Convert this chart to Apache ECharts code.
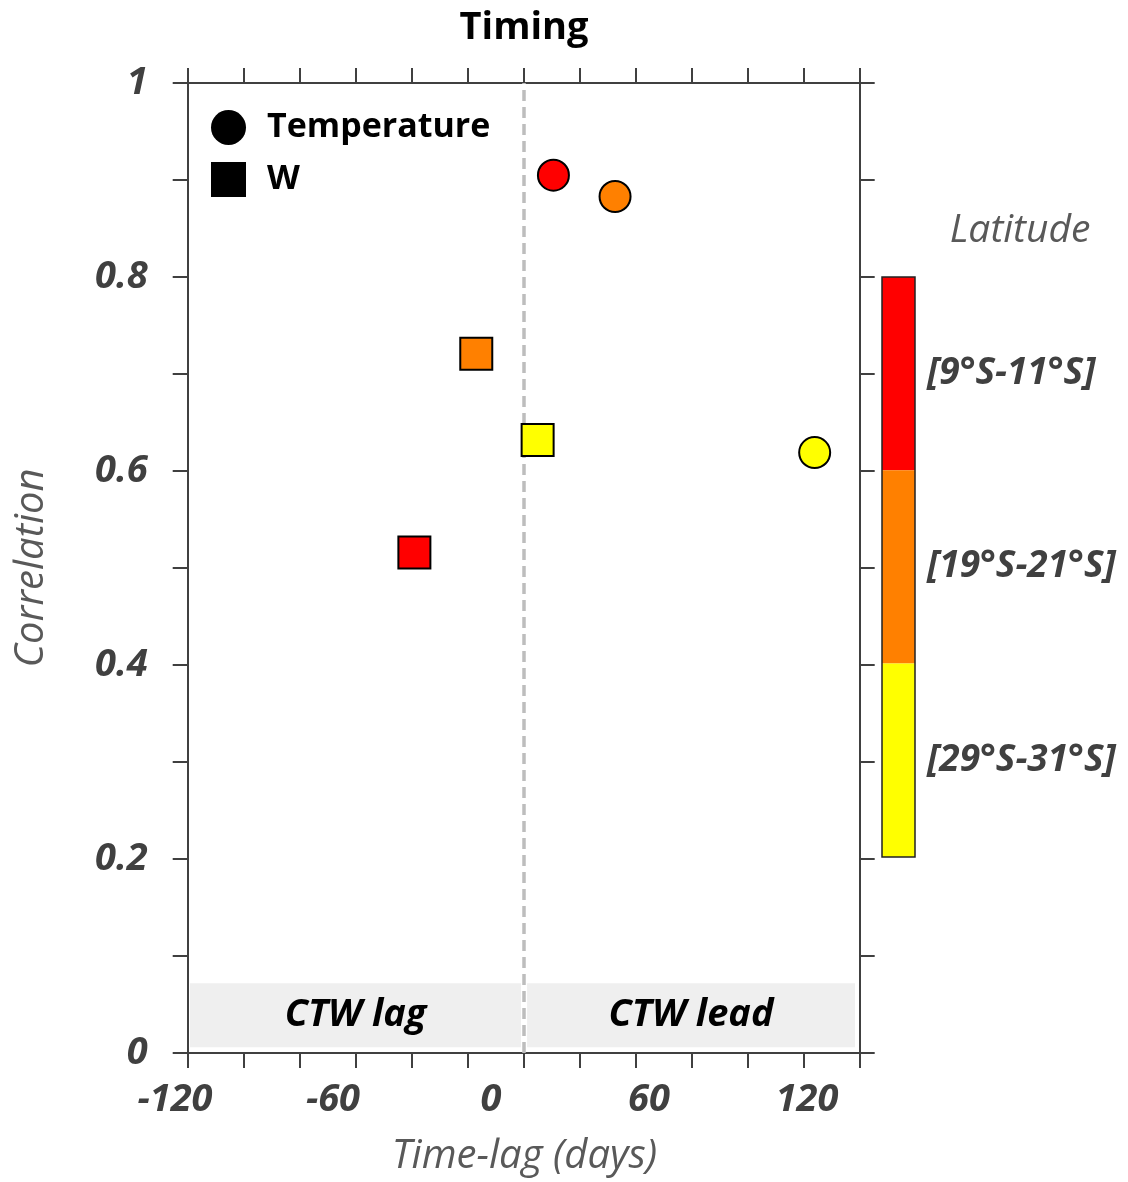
<!DOCTYPE html>
<html>
<head>
<meta charset="utf-8">
<title>Timing</title>
<script src="https://cdn.jsdelivr.net/npm/echarts@6/dist/echarts.min.js"></script>
<style>
  html, body { margin: 0; padding: 0; background: #fff; }
  #chart { width: 1128px; height: 1182px; }
</style>
</head>
<body>
<div id="chart"></div>
<script>
// latitude bands (deg S, band centre) and their colours
const latitudeBands = [10, 20, 30];
const latitudeLabels = ["[9°S-11°S]", "[19°S-21°S]", "[29°S-31°S]"];
const latitudeColors = ["#ff0000", "#ff8000", "#ffff00"];

// Temperature (circles) and W (squares): time-lag in days, correlation
const tempLag = [23.7, 47.1, 122.9];
const tempCorr = [0.905, 0.883, 0.619];
const wLag = [-29.1, -5.6, 17.7];
const wCorr = [0.516, 0.721, 0.632];

const xTickLabels = [-120, -60, 0, 60, 120];
const yTickLabels = [0, 0.2, 0.4, 0.6, 0.8, 1];
const xMin = -120;
const xMax = 140;
const lagLeadSplit = 12.4;

// shaded CTW lag / lead boxes along the bottom
const bandNames = ["CTW lag", "CTW lead"];
const bandFrom = [-114.3, 13.7];
const bandTo = [11.4, 138.2];
const bandLow = 0.006;
const bandHigh = 0.072;

// minor ticks of the frame: 12 even steps ending at the right edge
const xTicks = [];
for (let i = 0; i <= 12; i++) {
    xTicks.push(xMax - (12 - i) * (xMax + 115.2) / 12);
}

const FONT = "Open Sans";
const GREY = "#404040";

const toPoints = (lags, corrs) => lags.map((v, i) => [v, corrs[i], latitudeBands[i]]);

const tickLabelStyle = {
    fontFamily: FONT,
    fontWeight: "bold",
    fontStyle: "italic",
    fontSize: 38,
    color: GREY
};
const frameLine = { show: true, onZero: false, lineStyle: { color: GREY, width: 2 } };
const frameTick = { show: true, length: 15, lineStyle: { color: GREY, width: 2 } };

const chart = echarts.init(document.getElementById("chart"));

chart.setOption({
    backgroundColor: "#fff",
    animation: false,
    graphic: [
        {
            type: "text",
            x: 524,
            y: 28,
            style: {
                text: "Timing",
                align: "center",
                verticalAlign: "middle",
                fontFamily: FONT,
                fontWeight: "bold",
                fontSize: 38,
                fill: "#000"
            }
        },
        {
            type: "text",
            x: 1020,
            y: 231,
            style: {
                text: "Latitude",
                align: "center",
                verticalAlign: "middle",
                fontFamily: FONT,
                fontStyle: "italic",
                fontSize: 39,
                fill: "#595959"
            }
        },
        {
            type: "rect",
            z: 100,
            shape: { x: 882, y: 277, width: 33, height: 580 },
            style: { fill: null, stroke: "#222", lineWidth: 1.5 }
        }
    ],
    legend: {
        left: 206,
        top: 105,
        orient: "vertical",
        itemWidth: 35,
        itemHeight: 35,
        itemGap: 17,
        selectedMode: false,
        textStyle: {
            fontFamily: FONT,
            fontWeight: "bold",
            fontSize: 34,
            color: "#000",
            padding: [0, 0, 0, 16]
        },
        data: [
            { name: "Temperature", icon: "circle", itemStyle: { color: "#000", borderWidth: 0 } },
            { name: "W", icon: "rect", itemStyle: { color: "#000", borderWidth: 0 } }
        ]
    },
    visualMap: {
        type: "piecewise",
        dimension: 2,
        seriesIndex: [0, 1],
        orient: "vertical",
        inverse: true,
        align: "left",
        left: 882,
        top: 277,
        padding: 0,
        itemWidth: 33,
        itemHeight: 193.3,
        itemGap: 0,
        itemSymbol: "rect",
        textGap: 12,
        selectedMode: false,
        hoverLink: false,
        textStyle: Object.assign({}, tickLabelStyle, { fontSize: 37 }),
        pieces: latitudeBands.map((b, i) => ({
            min: b - 1,
            max: b + 1,
            label: latitudeLabels[i],
            color: latitudeColors[i]
        }))
    },
    grid: {
        left: 175,
        right: 268.3,
        top: 83,
        bottom: 129
    },
    xAxis: [
        {
            type: "value",
            position: "bottom",
            min: xMin,
            max: xMax,
            axisLine: frameLine,
            axisTick: Object.assign({ customValues: xTicks }, frameTick),
            axisLabel: Object.assign({ customValues: xTickLabels, margin: 28 }, tickLabelStyle),
            splitLine: { show: false },
            name: "Time-lag (days)",
            nameLocation: "middle",
            nameGap: 84,
            nameTextStyle: {
                fontFamily: FONT,
                fontStyle: "italic",
                fontSize: 40,
                color: "#595959",
                padding: [0, 0, 0, 14]
            }
        },
        {
            type: "value",
            position: "top",
            min: xMin,
            max: xMax,
            axisLine: frameLine,
            axisTick: Object.assign({ customValues: xTicks }, frameTick),
            axisLabel: { show: false },
            splitLine: { show: false }
        }
    ],
    yAxis: [
        {
            type: "value",
            position: "left",
            offset: -12.7,
            min: 0,
            max: 1,
            interval: 0.1,
            axisLine: frameLine,
            axisTick: frameTick,
            axisLabel: Object.assign({ customValues: yTickLabels, margin: 40 }, tickLabelStyle),
            splitLine: { show: false },
            name: "Correlation",
            nameLocation: "middle",
            nameGap: 136,
            nameRotate: 90,
            nameTextStyle: {
                fontFamily: FONT,
                fontStyle: "italic",
                fontSize: 40,
                color: "#595959"
            }
        },
        {
            type: "value",
            position: "right",
            min: 0,
            max: 1,
            interval: 0.1,
            axisLine: frameLine,
            axisTick: frameTick,
            axisLabel: { show: false },
            splitLine: { show: false }
        }
    ],
    series: [
        {
            name: "Temperature",
            type: "scatter",
            symbol: "circle",
            symbolSize: 31,
            z: 5,
            itemStyle: { color: "#000", borderColor: "#000", borderWidth: 2, opacity: 1 },
            data: toPoints(tempLag, tempCorr)
        },
        {
            name: "W",
            type: "scatter",
            symbol: "rect",
            symbolSize: 32,
            z: 5,
            itemStyle: { color: "#000", borderColor: "#000", borderWidth: 2, opacity: 1 },
            data: toPoints(wLag, wCorr)
        },
        {
            name: "frame",
            type: "scatter",
            z: 1,
            silent: true,
            data: [],
            markArea: {
                silent: true,
                itemStyle: { color: "#efefef" },
                label: {
                    show: true,
                    position: "inside",
                    fontFamily: FONT,
                    fontWeight: "bold",
                    fontStyle: "italic",
                    fontSize: 38,
                    color: "#000"
                },
                data: bandNames.map((n, i) => [
                    { name: n, xAxis: bandFrom[i], yAxis: bandLow },
                    { xAxis: bandTo[i], yAxis: bandHigh }
                ])
            },
            markLine: {
                silent: true,
                symbol: "none",
                label: { show: false },
                lineStyle: { color: "#bdbdbd", type: [11, 6], width: 3.5 },
                data: [{ xAxis: lagLeadSplit }]
            }
        }
    ]
});
</script>
</body>
</html>
